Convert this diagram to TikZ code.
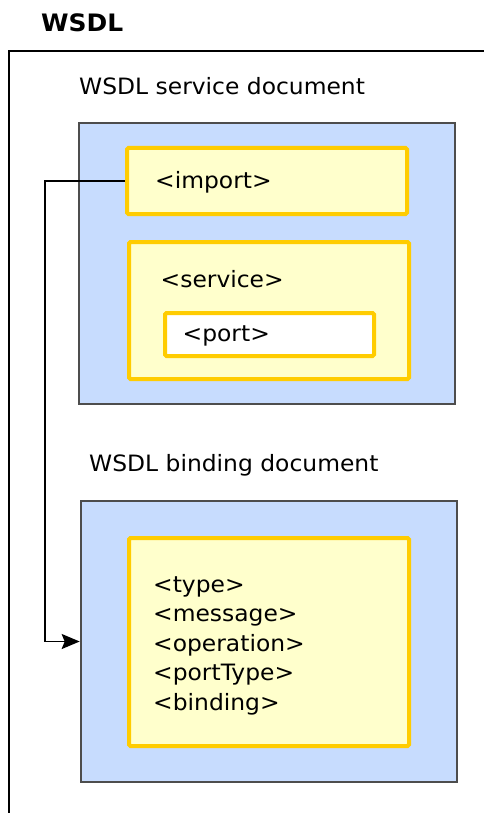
\documentclass[tikz,border=0pt]{standalone}
\usepackage{fontspec}
\setmainfont{DejaVu Sans}[FakeStretch=1.04]
\usetikzlibrary{arrows.meta}
\definecolor{docblue}{RGB}{199,220,254}
\definecolor{docgray}{RGB}{77,77,77}
\definecolor{elemfill}{RGB}{255,255,204}
\definecolor{elemgold}{RGB}{255,204,0}

\begin{document}
\begin{tikzpicture}
  [x=1pt,y=-1pt,
   docbox/.style={rectangle,draw=docgray,fill=docblue,line width=2.6pt,inner sep=0pt},
   elembox/.style={rectangle,draw=elemgold,fill=elemfill,line width=4pt,rounded corners=1.5pt,inner sep=0pt},
   portbox/.style={elembox,fill=white},
   label/.style={anchor=base west,inner sep=0pt,font=\fontsize{22.5}{29.5}\selectfont}]
  \useasboundingbox (0,0) rectangle (483,813);
  % outer frame
  \draw[line width=2.2pt] (9,820) |- (490,51);
  \node[label,font=\fontsize{24}{28}\selectfont\bfseries] (title) at (41,31.5) {WSDL};
  % service document
  \node[label] (svclabel) at (79,94.5) {WSDL service document};
  \node[docbox,minimum width=376pt,minimum height=281pt] (svcdoc) at (267,263.5) {};
  \node[elembox,minimum width=280pt,minimum height=66pt] (imp) at (267,181) {};
  \node[label] (implabel) at (155,188.5) {<import>};
  \node[elembox,minimum width=280pt,minimum height=137pt] (svc) at (269,310.5) {};
  \node[label] (svclbl) at (160.5,287.5) {<service>};
  \node[portbox,minimum width=209pt,minimum height=43pt] (port) at (269.5,334.5) {};
  \node[label] (portlabel) at (182.5,341.5) {<port>};
  % binding document
  \node[label] (binlabel) at (89,471) {WSDL binding document};
  \node[docbox,minimum width=376pt,minimum height=281pt] (bindoc) at (269,641.5) {};
  \node[elembox,minimum width=280pt,minimum height=208pt] (defs) at (269,642) {};
  \node[label,align=left,anchor=north west] (defslabel) at (153,576)
    {<type>\\<message>\\<operation>\\<portType>\\<binding>};
  % import link
  \draw[line width=1.8pt,-{Stealth[length=18pt,width=15pt,inset=3pt]}]
    (imp.west) -- ++(-80,0) |- (bindoc.west);
\end{tikzpicture}
\end{document}
